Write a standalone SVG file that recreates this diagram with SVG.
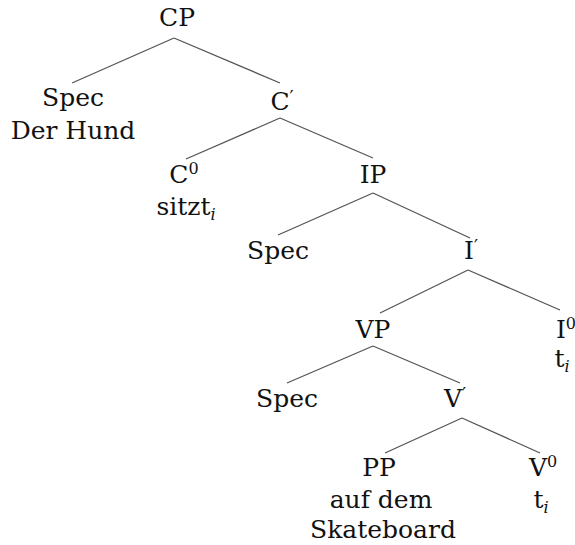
<svg xmlns="http://www.w3.org/2000/svg" width="575" height="545" viewBox="0 0 575 545">
<style>
text{font-family:"DejaVu Serif","Liberation Serif",serif;font-size:25px;fill:#111;text-anchor:middle}
.sup{font-size:16px}
.sub{font-size:16px;font-style:italic}
.pr{font-size:18px}
.edge{stroke:#555;stroke-width:1.3;fill:none}
</style>
<rect width="575" height="545" fill="#fff"/>
<g id="connectors">
<line class="edge" x1="174" y1="38" x2="72" y2="83"/>
<line class="edge" x1="174" y1="38" x2="280" y2="83"/>
<line class="edge" x1="280" y1="118" x2="186" y2="159"/>
<line class="edge" x1="280" y1="118" x2="373" y2="158"/>
<line class="edge" x1="373" y1="193" x2="278" y2="235"/>
<line class="edge" x1="373" y1="193" x2="470" y2="238"/>
<line class="edge" x1="468" y1="270" x2="380" y2="313"/>
<line class="edge" x1="468" y1="270" x2="560" y2="310"/>
<line class="edge" x1="373" y1="346" x2="287" y2="383"/>
<line class="edge" x1="373" y1="346" x2="460" y2="383"/>
<line class="edge" x1="462" y1="418" x2="385" y2="453"/>
<line class="edge" x1="462" y1="418" x2="540" y2="453"/>
</g>
<g id="CP"><text x="177" y="26">CP</text></g>
<g id="SpecC"><text x="73" y="106">Spec</text><text x="73" y="139">Der Hund</text></g>
<g id="Cbar"><text x="282" y="110">C<tspan class="pr" dy="-6">′</tspan></text></g>
<g id="C0"><text x="184" y="183">C<tspan class="sup" dy="-9">0</tspan></text><text x="186" y="215">sitzt<tspan class="sub" dy="5">i</tspan></text></g>
<g id="IP"><text x="373" y="183">IP</text></g>
<g id="SpecI"><text x="278" y="259">Spec</text></g>
<g id="Ibar"><text x="471" y="259">I<tspan class="pr" dy="-6">′</tspan></text></g>
<g id="VP"><text x="373" y="338">VP</text></g>
<g id="I0"><text x="566" y="338">I<tspan class="sup" dy="-9">0</tspan></text><text x="562" y="367">t<tspan class="sub" dy="5">i</tspan></text></g>
<g id="SpecV"><text x="287" y="407">Spec</text></g>
<g id="Vbar"><text x="455" y="407">V<tspan class="pr" dy="-6">′</tspan></text></g>
<g id="PP"><text x="379" y="476">PP</text><text x="381" y="508">auf dem</text><text x="383" y="538">Skateboard</text></g>
<g id="V0"><text x="543" y="476">V<tspan class="sup" dy="-9">0</tspan></text><text x="541" y="508">t<tspan class="sub" dy="5">i</tspan></text></g>
</svg>
